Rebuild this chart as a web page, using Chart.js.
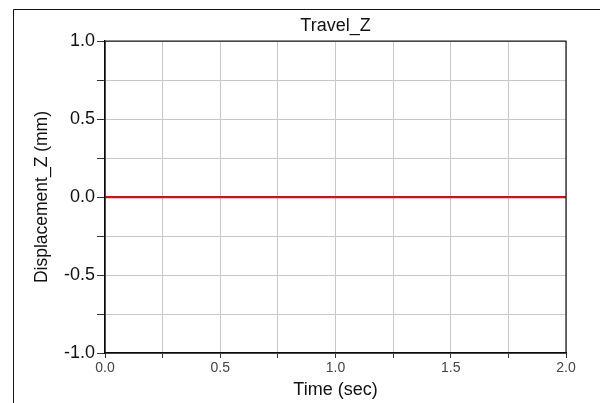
<!DOCTYPE html>
<html>
<head>
<meta charset="utf-8">
<script src="https://cdn.jsdelivr.net/npm/chart.js@4"></script>
<style>
  html, body { margin: 0; padding: 0; background: #fff; }
  #wrap { position: relative; width: 600px; height: 403px; }
</style>
</head>
<body>
<div id="wrap"><canvas id="travelChart" width="600" height="403"></canvas></div>
<script>
// values
const timeSec = [0.0, 0.5, 1.0, 1.5, 2.0];
const displacementZ = [0, 0, 0, 0, 0];
const xTicks = [0.0, 0.5, 1.0, 1.5, 2.0];
const yTicks = [-1.0, -0.5, 0.0, 0.5, 1.0];

const FONT = "'Liberation Sans', Arial, sans-serif";

// outer frame (left + top) and box around the plot
const framePlugin = {
  id: 'frame',
  afterDraw(chart) {
    const { ctx, chartArea: a } = chart;
    ctx.save();
    ctx.strokeStyle = '#111';
    ctx.lineWidth = 1;
    ctx.beginPath();
    ctx.moveTo(13.5, 403);
    ctx.lineTo(13.5, 9.5);
    ctx.lineTo(600, 9.5);
    ctx.stroke();
    ctx.lineWidth = 1.2;
    ctx.strokeRect(a.left, a.top, a.right - a.left, a.bottom - a.top);
    ctx.restore();
  }
};

const isMajor = (v) => Math.abs(v * 2 - Math.round(v * 2)) < 1e-6;

new Chart(document.getElementById('travelChart'), {
  type: 'line',
  data: {
    datasets: [{
      data: timeSec.map((t, i) => ({ x: t, y: displacementZ[i] })),
      borderColor: '#c3171c',
      borderWidth: 2.2,
      pointRadius: 0,
      fill: false,
      tension: 0
    }]
  },
  options: {
    responsive: false,
    animation: false,
    layout: { padding: { left: 0, right: 34, top: 0, bottom: 0 } },
    plugins: {
      legend: { display: false },
      tooltip: { enabled: false },
      title: {
        display: true,
        text: 'Travel_Z',
        fullSize: false,
        color: '#111',
        font: { family: FONT, size: 18, weight: 'normal' },
        padding: { top: 15, bottom: 4.5 }
      }
    },
    scales: {
      x: {
        type: 'linear',
        min: xTicks[0],
        max: xTicks[xTicks.length - 1],
        ticks: {
          stepSize: 0.25,
          color: '#444',
          font: { family: FONT, size: 14 },
          padding: 2,
          maxRotation: 0,
          callback: (v) => isMajor(v) && xTicks.some(t => Math.abs(t - v) < 1e-6) ? v.toFixed(1) : ''
        },
        grid: { color: '#c8c8c8', lineWidth: 1, tickLength: 5, tickColor: '#333' },
        border: { display: true, color: '#000', width: 1.2 },
        title: {
          display: true,
          text: 'Time (sec)',
          color: '#111',
          font: { family: FONT, size: 18 },
          padding: { top: 0, bottom: 2 }
        },
        afterFit(scale) { scale.height = 50; }
      },
      y: {
        min: yTicks[0],
        max: yTicks[yTicks.length - 1],
        ticks: {
          stepSize: 0.25,
          color: '#111',
          font: { family: FONT, size: 18 },
          padding: 2,
          callback: (v) => isMajor(v) && yTicks.some(t => Math.abs(t - v) < 1e-6) ? v.toFixed(1) : ''
        },
        grid: { color: '#c8c8c8', lineWidth: 1, tickLength: 8, tickColor: '#333' },
        border: { display: true, color: '#000', width: 1.2 },
        title: {
          display: true,
          text: 'Displacement_Z (mm)',
          color: '#111',
          font: { family: FONT, size: 17.5 },
          padding: { top: 32, bottom: 0 }
        },
        afterFit(scale) { scale.width = 105; }
      }
    }
  },
  plugins: [framePlugin]
});
</script>
</body>
</html>
